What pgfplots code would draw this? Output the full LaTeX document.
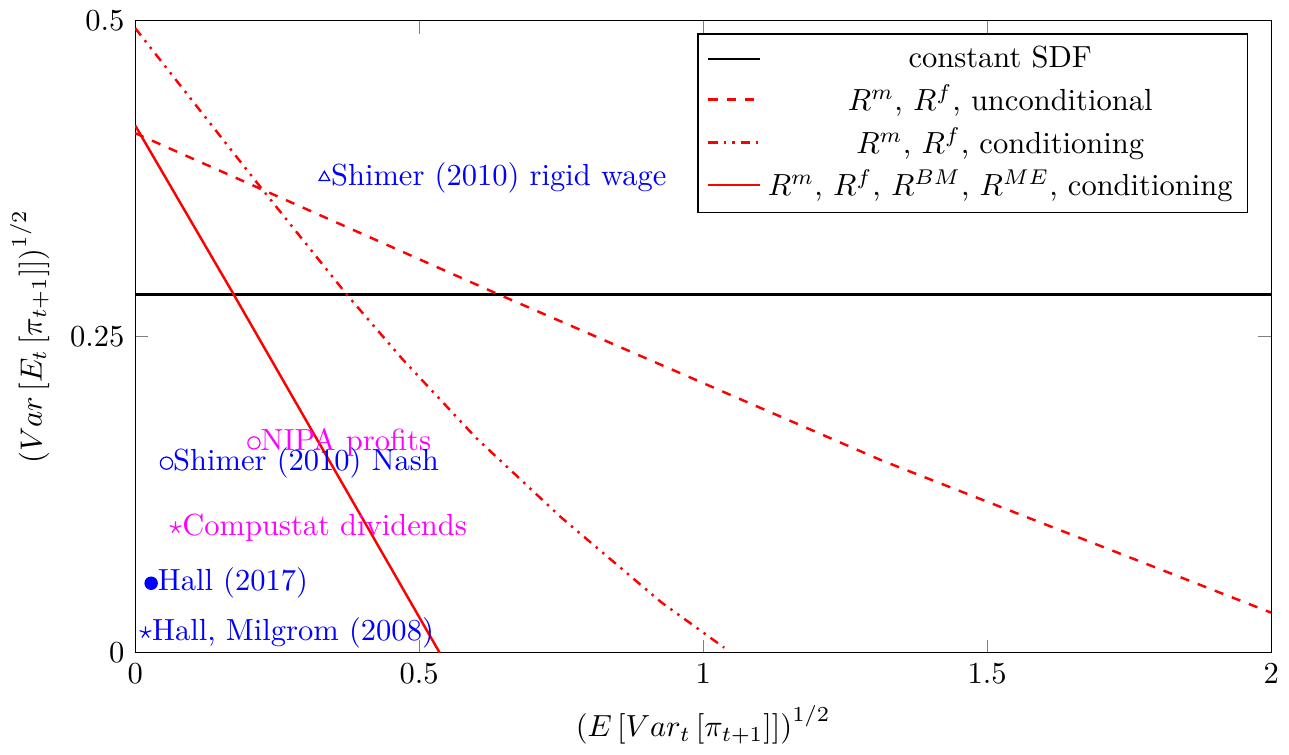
\documentclass[border=0pt]{standalone}
\usepackage{pgfplots}
\pgfplotsset{compat=1.18}
\definecolor{mymag}{rgb}{1,0,1}
\definecolor{myblue}{rgb}{0,0,1}
\begin{document}
\begin{tikzpicture}
\begin{axis}[
  scale only axis,
  width=372pt, height=207pt,
  xmin=0, xmax=2, ymin=0, ymax=0.5,
  xtick={0,0.5,1,1.5,2},
  ytick={0,0.25,0.5},
  yticklabels={0,0.25,0.5},
  xticklabels={0,0.5,1,1.5,2},
  xlabel={$\left(E\left[Var_t\left[\pi_{t+1}\right]\right]\right)^{1/2}$},
  ylabel={$\left(Var\left[E_t\left[\pi_{t+1}\right]\right]\right)^{1/2}$},
  legend style={at={(0.98,0.98)}, anchor=north east, cells={align=center}},
  legend cell align=center,
]
\addplot[black, thick] coordinates {(0,0.2833) (2,0.2833)};
\addlegendentry{constant SDF}
\addplot[red, thick, dashed] coordinates {(0,0.411) (0.637,0.284) (1.055,0.2026) (1.315,0.152) (2,0.0317)};
\addlegendentry{$R^m$, $R^f$, unconditional}
\addplot[red, thick, dash dot dot] coordinates {(0,0.494) (0.214,0.372) (0.373,0.283) (0.471,0.232) (0.6,0.170) (0.75,0.107) (0.926,0.040) (1.037,0.004)};
\addlegendentry{$R^m$, $R^f$, conditioning}
\addplot[red, thick] coordinates {(0,0.417) (0.1735,0.2833) (0.536,0)};
\addlegendentry{$R^m$, $R^f$, $R^{BM}$, $R^{ME}$, conditioning}

\addplot[myblue, only marks, mark=triangle, forget plot, nodes near coords={Shimer (2010) rigid wage}, nodes near coords align={anchor=west, inner sep=2pt}] coordinates {(0.333,0.376)};
\addplot[mymag, only marks, mark=o, forget plot, nodes near coords={NIPA profits}, nodes near coords align={anchor=west, inner sep=2pt}] coordinates {(0.209,0.166)};
\addplot[myblue, only marks, mark=o, forget plot, nodes near coords={Shimer (2010) Nash}, nodes near coords align={anchor=west, inner sep=2pt}] coordinates {(0.055,0.150)};
\addplot[mymag, only marks, mark=star, forget plot, nodes near coords={Compustat dividends}, nodes near coords align={anchor=west, inner sep=2pt}] coordinates {(0.071,0.099)};
\addplot[myblue, only marks, mark=*, forget plot, nodes near coords={Hall (2017)}, nodes near coords align={anchor=west, inner sep=2pt}] coordinates {(0.028,0.055)};
\addplot[myblue, only marks, mark=star, forget plot, nodes near coords={Hall, Milgrom (2008)}, nodes near coords align={anchor=west, inner sep=2pt}] coordinates {(0.018,0.016)};
\end{axis}
\end{tikzpicture}
\end{document}
